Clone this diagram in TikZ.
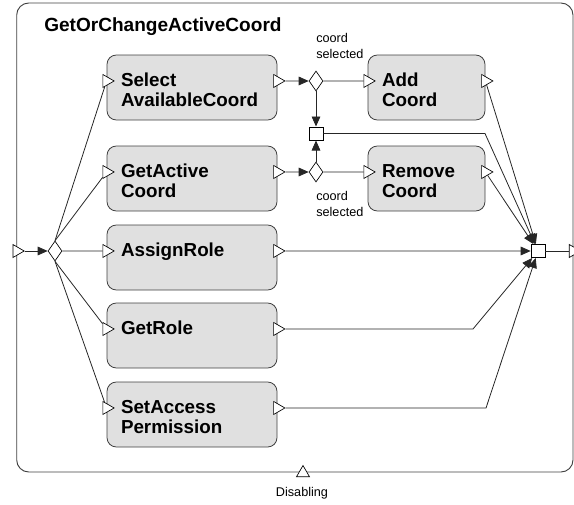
\documentclass[tikz,border=0pt]{standalone}
\usepackage{fontspec}
\setmainfont{Liberation Sans}
\usetikzlibrary{shapes.geometric, arrows.meta, positioning}
\definecolor{cTask}{RGB}{224,224,224}
\definecolor{cEdge}{RGB}{64,64,64}
\newcommand{\tasktxt}[2][106.5pt]{\parbox[c][48pt][t]{#1}{\raggedright\rule{0pt}{22.9pt}#2}}
\tikzset{
	frame/.style={rectangle, rounded corners=9pt, draw=cEdge, line width=0.7pt, minimum width=417.2pt, minimum height=351.75pt},
	task/.style ={rectangle, rounded corners=7pt, draw=cEdge, line width=0.6pt, fill=cTask, minimum width=127.5pt, minimum height=48.75pt, inner sep=0pt, font=\fontsize{14.1}{15}\selectfont\bfseries},
	port/.style ={regular polygon, regular polygon sides=3, shape border rotate=270, draw=black, fill=white, line width=0.5pt, inner sep=0pt, minimum size=11.25pt},
	gate/.style ={diamond, draw=black, fill=white, line width=0.5pt, inner sep=0pt, minimum width=10.5pt, minimum height=15pt},
	joinbox/.style ={rectangle, draw=black, fill=white, line width=0.5pt, inner sep=0pt, minimum width=10.5pt, minimum height=10pt},
	flow/.style ={draw=black!85, line width=0.6pt},
	note/.style ={align=left, anchor=west, inner sep=0pt},
}
\begin{document}
\begin{tikzpicture}[x=0.75pt, y=-0.75pt, font=\fontsize{9.5}{12}\selectfont, >={Triangle[length=7.5pt,width=6.5pt]}]
	\useasboundingbox (0,0) rectangle (574,504);
	\node[frame] (proc) at (294.85,237.5) {};
	\node[anchor=west, inner sep=0pt, font=\fontsize{14.3}{15}\selectfont\bfseries] (ttl) at (44,27) {GetOrChangeActiveCoord};
	% task boxes
	\node[task] (sel) at (192,87.5) {\tasktxt{Select\\AvailableCoord}};
	\node[task] (gac) at (192,178.5) {\tasktxt{GetActive\\Coord}};
	\node[task] (asg) at (192,257.5) {\tasktxt{AssignRole}};
	\node[task] (grl) at (192,335.5) {\tasktxt{GetRole}};
	\node[task] (sap) at (192,414.5) {\tasktxt{SetAccess\\Permission}};
	\node[task, minimum width=87.75pt] (add) at (426.5,87.5) {\tasktxt[66.75pt]{Add\\Coord}};
	\node[task, minimum width=87.75pt] (rem) at (426.5,178.5) {\tasktxt[66.75pt]{Remove\\Coord}};
	\foreach \t in {sel,gac,asg,grl,sap,add,rem} {
		\node[port] (\t-in) at ([yshift=4.9pt]\t.west) {};
		\node[port] (\t-out) at ([yshift=4.9pt]\t.east) {};
	}
	% gateways and joins
	\node[port] (pin) at (16.7,251) {};
	\node[gate] (gw) at (55,251) {};
	\node[gate] (d1) at (316,81) {};
	\node[gate] (d2) at (316,172) {};
	\node[joinbox] (sq) at (316,133.5) {};
	\node[joinbox] (jn) at (538,251) {};
	\node[port] (pout) at (573,251) {};
	\node[port, shape border rotate=0] (dis) at (303,473) {};
	\node (disL) at (302,493) {Disabling};
	\node[note] (c1) at (316,46) {coord\\selected};
	\node[note] (c2) at (316,203.5) {coord\\selected};
	\coordinate (bq) at (485,133.5);
	\coordinate (bg) at (473,329);
	\coordinate (bs) at (486,408);
	% connectors
	\draw[flow, ->] (pin) -- (gw);
	\draw[flow] (gw.north) -- (sel-in);
	\draw[flow] (gw.north) -- (gac-in);
	\draw[flow] (gw) -- (asg-in);
	\draw[flow] (gw.south) -- (grl-in);
	\draw[flow] (gw.south) -- (sap-in);
	\draw[flow, ->] (sel-out) -- (d1);
	\draw[flow] (d1) -- (add-in);
	\draw[flow, ->] (d1) -- (sq);
	\draw[flow, ->] (gac-out) -- (d2);
	\draw[flow] (d2) -- (rem-in);
	\draw[flow, ->] (d2) -- (sq);
	\draw[flow, ->] (sq) -- (bq) -- (jn);
	\draw[flow, ->] (add-out) -- (jn);
	\draw[flow, ->] (rem-out) -- (jn);
	\draw[flow, ->] (asg-out) -- (jn);
	\draw[flow, ->] (grl-out) -- (bg) -- (jn);
	\draw[flow, ->] (sap-out) -- (bs) -- (jn);
	\draw[flow] (jn) -- (pout);
\end{tikzpicture}
\end{document}
